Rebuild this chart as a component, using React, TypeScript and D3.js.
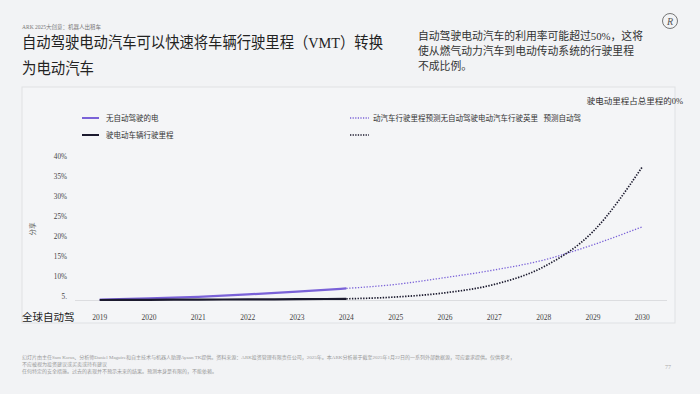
import * as d3 from "d3";

const years = [2019, 2020, 2021, 2022, 2023, 2024, 2025, 2026, 2027, 2028, 2029, 2030];
const yTicks = [5, 10, 15, 20, 25, 30, 35, 40];

// 实际值 2019-2024
const evNoAutoActual = [4.1, 4.4, 4.8, 5.4, 6.1, 6.9];
const autoEvActual = [4.0, 4.05, 4.1, 4.15, 4.2, 4.3];
// 预测 2024-2030
const evNoAutoForecast = [6.9, 7.9, 9.6, 11.5, 14.0, 17.8, 22.3];
const autoEvForecast = [4.3, 4.75, 5.8, 7.9, 12.3, 21.1, 37.3];

const legendLabels = [
  "无自动驾驶的电",
  "驶电动车辆行驶里程",
  "动汽车行驶里程预测无自动驾驶电动汽车行驶英里   预测自动驾",
];

const note = [
  "自动驾驶电动汽车的利用率可能超过50%，这将",
  "使从燃气动力汽车到电动传动系统的行驶里程",
  "不成比例。",
];

const footer = [
  "幻灯片由主任Sam Korus、分析师Daniel Maguire和自主技术与机器人助理Ayaan TK提供。资料来源：ARK投资管理有限责任公司，2025年。本ARK分析基于截至2025年1月22日的一系列外部数据源，可应要求提供。仅供参考，",
  "不应被视为投资建议或买卖或持有建议",
  "任何特定的安全措施。过去的表现并不预示未来的结果。预测本身是有限的，不能依赖。",
];

const PURPLE = "#7a62d8";
const DARK = "#1b1a2e";
const FONT = "'Liberation Serif', 'Noto Sans CJK SC', serif";

const App = () => {
  const x = d3.scalePoint<number>().domain(years).range([75, 667]).padding(0.5);
  const y = d3.scaleLinear().domain([4, 40]).range([300, 156]);

  const path = (vals: number[], start: number) =>
    d3
      .line<number>()
      .x((_, i) => x(years[start + i])!)
      .y((d) => y(d))
      .curve(d3.curveMonotoneX)(vals) || "";

  return (
    <svg
      width={700}
      height={394}
      style={{ position: "absolute", left: 0, top: 0, background: "#f2f3f5" }}
      fontFamily={FONT}
    >
      <rect x={0} y={0} width={700} height={394} fill="#f2f3f5" />

      {/* header */}
      <text x={22} y={29} fontSize={5.5} fill="#777">
        ARK 2025大创意：机器人出租车
      </text>
      <text x={22} y={48} fontSize={15.5} fill="#222" textLength={361} lengthAdjust="spacingAndGlyphs">
        自动驾驶电动汽车可以快速将车辆行驶里程（VMT）转换
      </text>
      <text x={22} y={74} fontSize={15.5} fill="#222" textLength={72} lengthAdjust="spacingAndGlyphs">
        为电动汽车
      </text>
      {note.map((t, i) => (
        <text key={i} x={418} y={40 + i * 15} fontSize={10.8} fill="#333">
          {t}
        </text>
      ))}
      <circle cx={670} cy={21} r={7.5} fill="none" stroke="#555" strokeWidth={0.8} />
      <text x={670} y={25} fontSize={10} textAnchor="middle" fill="#555" fontStyle="italic">
        R
      </text>

      {/* panel */}
      <rect x={22} y={87} width={653} height={236} fill="#f4f5f7" stroke="#dfe1e4" strokeWidth={1} />
      <text x={683} y={104} fontSize={8.5} textAnchor="end" fill="#333">
        驶电动里程占总里程的0%
      </text>

      {/* legend */}
      <line x1={82} x2={99} y1={118} y2={118} stroke={PURPLE} strokeWidth={2} />
      <text x={106} y={121} fontSize={7.5} fill="#333">{legendLabels[0]}</text>
      <line x1={82} x2={99} y1={135} y2={135} stroke={DARK} strokeWidth={2} />
      <text x={106} y={138} fontSize={7.5} fill="#333">{legendLabels[1]}</text>
      <line x1={350} x2={369} y1={118} y2={118} stroke={PURPLE} strokeWidth={1.3} strokeDasharray="1.2 1.4" />
      <text x={373} y={121} fontSize={7.5} fill="#333" style={{ whiteSpace: "pre" }}>{legendLabels[2]}</text>
      <line x1={350} x2={369} y1={135} y2={135} stroke={DARK} strokeWidth={1.5} strokeDasharray="1.3 1.3" />

      {/* y axis */}
      {yTicks.map((t) => (
        <text key={t} x={67} y={y(t) + 2.5} fontSize={7.2} textAnchor="end" fill="#444">
          {t === 5 ? "5." : `${t}%`}
        </text>
      ))}
      <text transform="translate(35,229) rotate(-90)" fontSize={6.5} textAnchor="middle" fill="#555">
        分享
      </text>

      {/* baseline */}
      <line x1={75} x2={667} y1={y(4) + 0.5} y2={y(4) + 0.5} stroke="#dcdde0" strokeWidth={1} />

      {/* x axis */}
      {years.map((yr) => (
        <text key={yr} x={x(yr)} y={320} fontSize={7.5} textAnchor="middle" fill="#444">
          {yr}
        </text>
      ))}
      <text x={22} y={321} fontSize={10.5} fill="#222">
        全球自动驾
      </text>

      {/* lines */}
      <path d={path(evNoAutoForecast, 5)} fill="none" stroke={PURPLE} strokeWidth={1.3} strokeDasharray="1.3 1.6" />
      <path d={path(autoEvForecast, 5)} fill="none" stroke={DARK} strokeWidth={1.7} strokeDasharray="1.4 1.4" />
      <path d={path(evNoAutoActual, 0)} fill="none" stroke={PURPLE} strokeWidth={2.2} />
      <path d={path(autoEvActual, 0)} fill="none" stroke={DARK} strokeWidth={2.2} />

      {/* footer */}
      {footer.map((t, i) => (
        <text key={i} x={22} y={359 + i * 7} fontSize={5} fill="#999">
          {t}
        </text>
      ))}
      <text x={668} y={369} fontSize={6} textAnchor="middle" fill="#aaa">
        77
      </text>
    </svg>
  );
};

export default App;
